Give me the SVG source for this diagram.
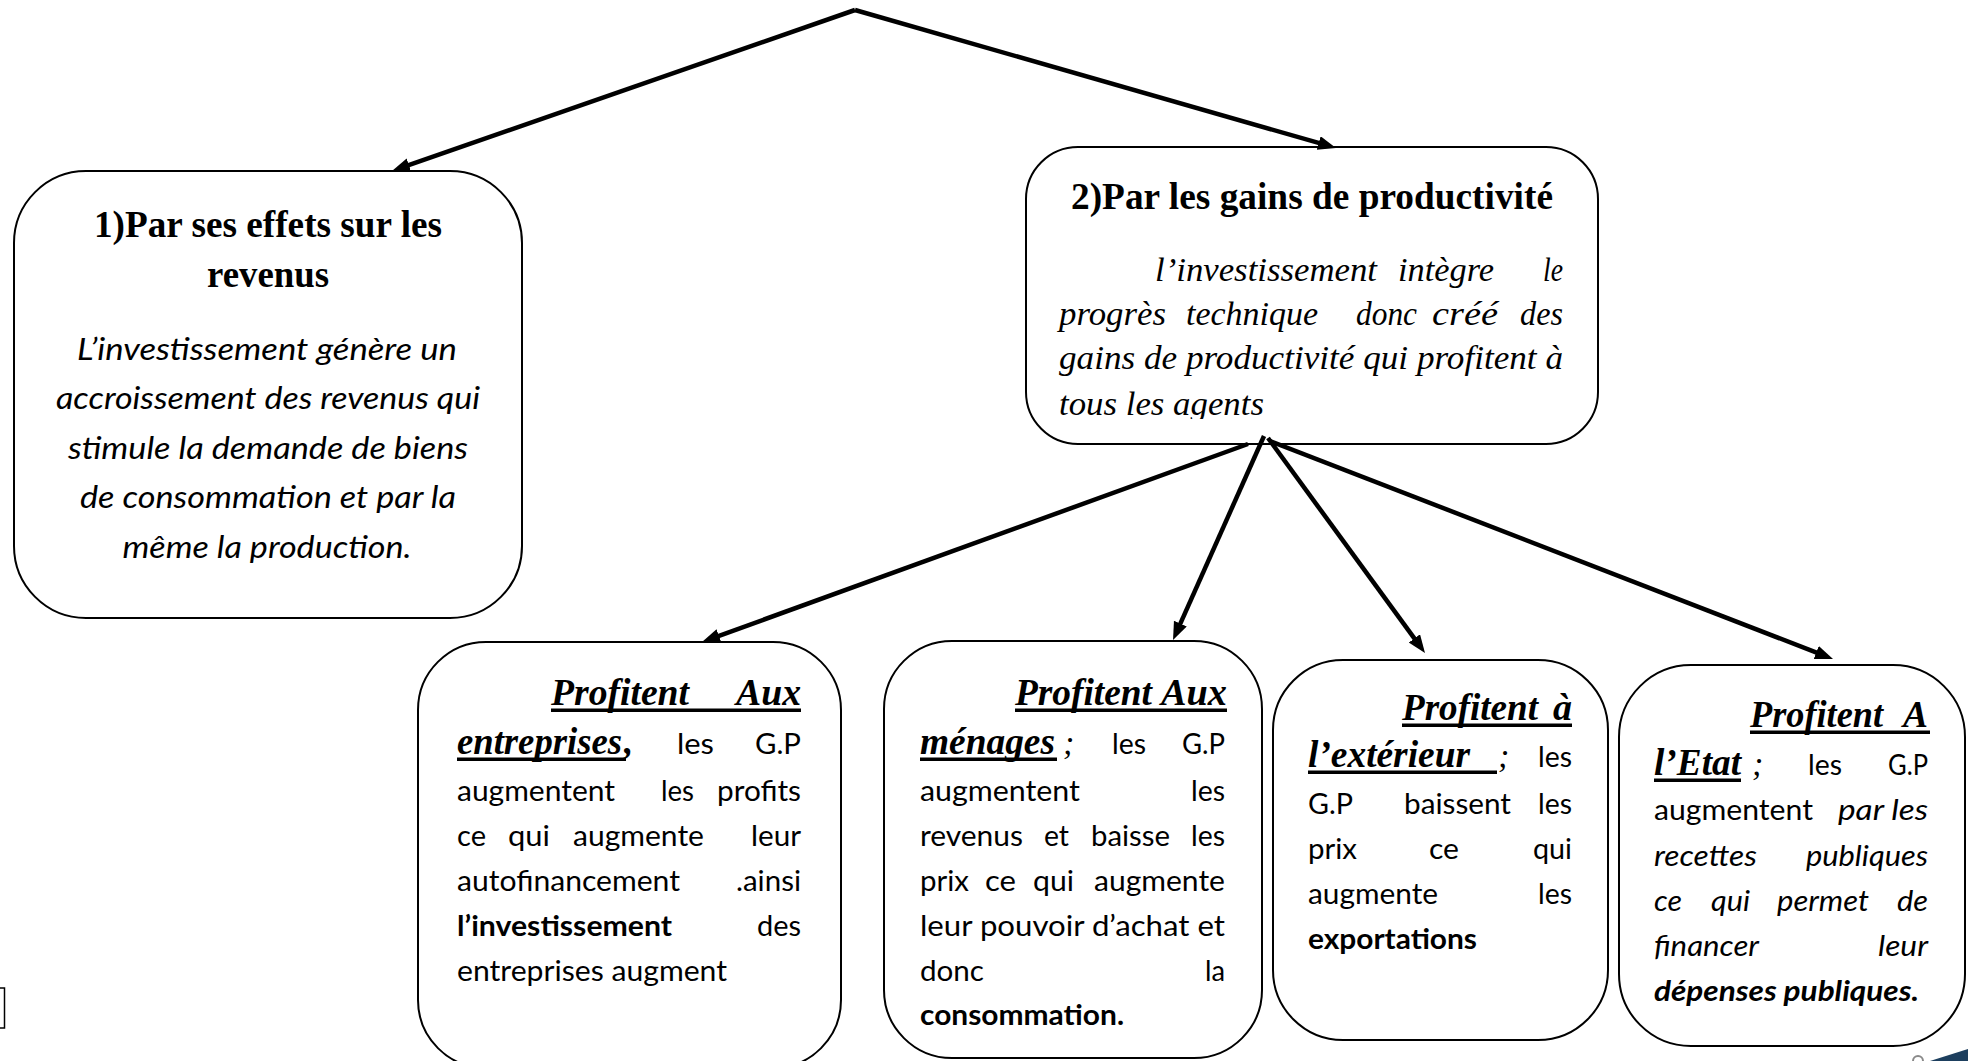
<svg xmlns="http://www.w3.org/2000/svg" width="1968" height="1061" viewBox="0 0 1968 1061">
<style>
.box{fill:none;stroke:#000;stroke-width:2}
.conn{fill:none;stroke:#000;stroke-width:4.5;marker-end:url(#ah)}
.tb{font-family:"Liberation Serif",serif;font-weight:bold;font-size:37px}
.hd{font-family:"Liberation Serif",serif;font-weight:bold;font-style:italic;font-size:37px}
.si{font-family:"Liberation Serif",serif;font-style:italic;font-size:34px}
.bs{font-family:Lato,"Liberation Sans",sans-serif;font-size:29px}
.bsb{font-family:Lato,"Liberation Sans",sans-serif;font-size:29px;font-weight:bold}
.bi{font-family:Lato,"Liberation Sans",sans-serif;font-size:29px;font-style:italic}
.bib{font-family:Lato,"Liberation Sans",sans-serif;font-size:29px;font-style:italic;font-weight:bold}
.b1{font-family:Lato,"Liberation Sans",sans-serif;font-size:31px;font-style:italic}
.ul{fill:#000}
text{fill:#000}
</style>
<defs>
<marker id="ah" markerUnits="userSpaceOnUse" markerWidth="20" markerHeight="16" refX="8" refY="7" orient="auto">
<path d="M0,0 L18,7 L0,14 Z" fill="#000"/>
</marker>
<clipPath id="c2"><rect x="1030" y="150" width="570" height="269"/></clipPath>
</defs>

<g id="connectors">
<path class="conn" d="M855,10 L401.4,167.7"/>
<path class="conn" d="M855,10 L1326.4,145.2"/>
<path class="conn" d="M1248,444 L711.4,638.6"/>
<path class="conn" d="M1264,436 L1177.1,630.9"/>
<path class="conn" d="M1268,438 L1419.1,644.9"/>
<path class="conn" d="M1270,441 L1823.7,655.4"/>
</g>

<g id="node-revenus">
<rect class="box" x="14" y="171" width="508" height="447" rx="72" ry="72"/>
<text class="tb" x="268" y="237" text-anchor="middle" textLength="348" lengthAdjust="spacingAndGlyphs">1)Par ses effets sur les</text>
<text class="tb" x="268" y="287" text-anchor="middle" textLength="122" lengthAdjust="spacingAndGlyphs">revenus</text>
<text class="b1" x="267" y="360" text-anchor="middle" textLength="380" lengthAdjust="spacingAndGlyphs">L’investissement génère un</text>
<text class="b1" x="268" y="409" text-anchor="middle" textLength="424" lengthAdjust="spacingAndGlyphs">accroissement des revenus qui</text>
<text class="b1" x="268" y="459" text-anchor="middle" textLength="400" lengthAdjust="spacingAndGlyphs">stimule la demande de biens</text>
<text class="b1" x="268" y="508" text-anchor="middle" textLength="376" lengthAdjust="spacingAndGlyphs">de consommation et par la</text>
<text class="b1" x="267" y="558" text-anchor="middle" textLength="289" lengthAdjust="spacingAndGlyphs">même la production.</text>
</g>

<g id="node-productivite">
<rect class="box" x="1026" y="147" width="572" height="297" rx="52" ry="52"/>
<text class="tb" x="1071" y="209" textLength="482" lengthAdjust="spacingAndGlyphs">2)Par les gains de productivité</text>
<text class="si" x="1155" y="281" textLength="222" lengthAdjust="spacingAndGlyphs">l’investissement</text>
<text class="si" x="1398" y="281" textLength="96" lengthAdjust="spacingAndGlyphs">intègre</text>
<text class="si" x="1543" y="281" textLength="20" lengthAdjust="spacingAndGlyphs">le</text>
<text class="si" x="1059" y="325" textLength="107" lengthAdjust="spacingAndGlyphs">progrès</text>
<text class="si" x="1186" y="325" textLength="132" lengthAdjust="spacingAndGlyphs">technique</text>
<text class="si" x="1356" y="325" textLength="61" lengthAdjust="spacingAndGlyphs">donc</text>
<text class="si" x="1432" y="325" textLength="66" lengthAdjust="spacingAndGlyphs">créé</text>
<text class="si" x="1520" y="325" textLength="43" lengthAdjust="spacingAndGlyphs">des</text>
<text class="si" x="1059" y="369" textLength="504" lengthAdjust="spacingAndGlyphs">gains de productivité qui profitent à</text>
<text class="si" x="1059" y="415" textLength="205" lengthAdjust="spacingAndGlyphs" clip-path="url(#c2)">tous les agents</text>
</g>

<g id="node-entreprises">
<rect class="box" x="418" y="642" width="423" height="426" rx="68" ry="68"/>
<text class="hd" x="551" y="705" textLength="138" lengthAdjust="spacingAndGlyphs">Profitent</text>
<text class="hd" x="736" y="705" textLength="65" lengthAdjust="spacingAndGlyphs">Aux</text>
<rect class="ul" x="551" y="708.5" width="250" height="3.5"/>
<text class="hd" x="457" y="754" textLength="165" lengthAdjust="spacingAndGlyphs">entreprises</text>
<rect class="ul" x="457" y="757.5" width="169" height="3.5"/>
<text class="hd" x="624" y="754">,</text>
<text class="bs" x="677" y="754" textLength="37" lengthAdjust="spacingAndGlyphs">les</text>
<text class="bs" x="755" y="754" textLength="46" lengthAdjust="spacingAndGlyphs">G.P</text>
<text class="bs" x="457" y="801" textLength="158" lengthAdjust="spacingAndGlyphs">augmentent</text>
<text class="bs" x="661" y="801" textLength="33" lengthAdjust="spacingAndGlyphs">les</text>
<text class="bs" x="717" y="801" textLength="84" lengthAdjust="spacingAndGlyphs">profits</text>
<text class="bs" x="457" y="846" textLength="29" lengthAdjust="spacingAndGlyphs">ce</text>
<text class="bs" x="508" y="846" textLength="42" lengthAdjust="spacingAndGlyphs">qui</text>
<text class="bs" x="573" y="846" textLength="131" lengthAdjust="spacingAndGlyphs">augmente</text>
<text class="bs" x="751" y="846" textLength="50" lengthAdjust="spacingAndGlyphs">leur</text>
<text class="bs" x="457" y="891" textLength="223" lengthAdjust="spacingAndGlyphs">autofinancement</text>
<text class="bs" x="736" y="891" textLength="65" lengthAdjust="spacingAndGlyphs">.ainsi</text>
<text class="bsb" x="457" y="936" textLength="215" lengthAdjust="spacingAndGlyphs">l’investissement</text>
<text class="bs" x="757" y="936" textLength="44" lengthAdjust="spacingAndGlyphs">des</text>
<text class="bs" x="457" y="981" textLength="270" lengthAdjust="spacingAndGlyphs">entreprises augment</text>
</g>

<g id="node-menages">
<rect class="box" x="884" y="641" width="378" height="417" rx="68" ry="68"/>
<text class="hd" x="1015" y="705" textLength="137" lengthAdjust="spacingAndGlyphs">Profitent</text>
<text class="hd" x="1161" y="705" textLength="66" lengthAdjust="spacingAndGlyphs">Aux</text>
<rect class="ul" x="1015" y="708.5" width="212" height="3.5"/>
<text class="hd" x="920" y="754" textLength="135" lengthAdjust="spacingAndGlyphs">ménages</text>
<rect class="ul" x="920" y="757.5" width="137" height="3.5"/>
<text class="si" x="1063" y="754">;</text>
<text class="bs" x="1112" y="754" textLength="34" lengthAdjust="spacingAndGlyphs">les</text>
<text class="bs" x="1182" y="754" textLength="43" lengthAdjust="spacingAndGlyphs">G.P</text>
<text class="bs" x="920" y="801" textLength="160" lengthAdjust="spacingAndGlyphs">augmentent</text>
<text class="bs" x="1191" y="801" textLength="34" lengthAdjust="spacingAndGlyphs">les</text>
<text class="bs" x="920" y="846" textLength="103" lengthAdjust="spacingAndGlyphs">revenus</text>
<text class="bs" x="1044" y="846" textLength="25" lengthAdjust="spacingAndGlyphs">et</text>
<text class="bs" x="1091" y="846" textLength="79" lengthAdjust="spacingAndGlyphs">baisse</text>
<text class="bs" x="1191" y="846" textLength="34" lengthAdjust="spacingAndGlyphs">les</text>
<text class="bs" x="920" y="891" textLength="49" lengthAdjust="spacingAndGlyphs">prix</text>
<text class="bs" x="985" y="891" textLength="31" lengthAdjust="spacingAndGlyphs">ce</text>
<text class="bs" x="1033" y="891" textLength="41" lengthAdjust="spacingAndGlyphs">qui</text>
<text class="bs" x="1094" y="891" textLength="131" lengthAdjust="spacingAndGlyphs">augmente</text>
<text class="bs" x="920" y="936" textLength="305" lengthAdjust="spacingAndGlyphs">leur pouvoir d’achat et</text>
<text class="bs" x="920" y="981" textLength="64" lengthAdjust="spacingAndGlyphs">donc</text>
<text class="bs" x="1205" y="981" textLength="20" lengthAdjust="spacingAndGlyphs">la</text>
<text class="bsb" x="920" y="1025" textLength="204" lengthAdjust="spacingAndGlyphs">consommation.</text>
</g>

<g id="node-exterieur">
<rect class="box" x="1273" y="660" width="335" height="380" rx="70" ry="70"/>
<text class="hd" x="1402" y="720" textLength="136" lengthAdjust="spacingAndGlyphs">Profitent</text>
<text class="hd" x="1553" y="720" textLength="19" lengthAdjust="spacingAndGlyphs">à</text>
<rect class="ul" x="1402" y="723.5" width="170" height="3.5"/>
<text class="hd" x="1308" y="767" textLength="162" lengthAdjust="spacingAndGlyphs">l’extérieur</text>
<rect class="ul" x="1308" y="770.5" width="189" height="3.5"/>
<text class="si" x="1498" y="767">;</text>
<text class="bs" x="1538" y="767" textLength="34" lengthAdjust="spacingAndGlyphs">les</text>
<text class="bs" x="1308" y="814" textLength="45" lengthAdjust="spacingAndGlyphs">G.P</text>
<text class="bs" x="1404" y="814" textLength="107" lengthAdjust="spacingAndGlyphs">baissent</text>
<text class="bs" x="1538" y="814" textLength="34" lengthAdjust="spacingAndGlyphs">les</text>
<text class="bs" x="1308" y="859" textLength="49" lengthAdjust="spacingAndGlyphs">prix</text>
<text class="bs" x="1429" y="859" textLength="30" lengthAdjust="spacingAndGlyphs">ce</text>
<text class="bs" x="1533" y="859" textLength="39" lengthAdjust="spacingAndGlyphs">qui</text>
<text class="bs" x="1308" y="904" textLength="130" lengthAdjust="spacingAndGlyphs">augmente</text>
<text class="bs" x="1538" y="904" textLength="34" lengthAdjust="spacingAndGlyphs">les</text>
<text class="bsb" x="1308" y="949" textLength="169" lengthAdjust="spacingAndGlyphs">exportations</text>
</g>

<g id="node-etat">
<rect class="box" x="1619" y="665" width="346" height="381" rx="72" ry="72"/>
<text class="hd" x="1750" y="727" textLength="133" lengthAdjust="spacingAndGlyphs">Profitent</text>
<text class="hd" x="1903" y="727" textLength="25" lengthAdjust="spacingAndGlyphs">A</text>
<rect class="ul" x="1750" y="730.5" width="180" height="3.5"/>
<text class="hd" x="1654" y="775" textLength="87" lengthAdjust="spacingAndGlyphs">l’Etat</text>
<rect class="ul" x="1654" y="778.5" width="87" height="3.5"/>
<text class="si" x="1752" y="775">;</text>
<text class="bs" x="1808" y="775" textLength="34" lengthAdjust="spacingAndGlyphs">les</text>
<text class="bs" x="1888" y="775" textLength="40" lengthAdjust="spacingAndGlyphs">G.P</text>
<text class="bs" x="1654" y="820" textLength="159" lengthAdjust="spacingAndGlyphs">augmentent</text>
<text class="bi" x="1838" y="820" textLength="90" lengthAdjust="spacingAndGlyphs">par les</text>
<text class="bi" x="1654" y="866" textLength="103" lengthAdjust="spacingAndGlyphs">recettes</text>
<text class="bi" x="1806" y="866" textLength="122" lengthAdjust="spacingAndGlyphs">publiques</text>
<text class="bi" x="1654" y="911" textLength="28" lengthAdjust="spacingAndGlyphs">ce</text>
<text class="bi" x="1711" y="911" textLength="39" lengthAdjust="spacingAndGlyphs">qui</text>
<text class="bi" x="1777" y="911" textLength="92" lengthAdjust="spacingAndGlyphs">permet</text>
<text class="bi" x="1897" y="911" textLength="31" lengthAdjust="spacingAndGlyphs">de</text>
<text class="bi" x="1654" y="956" textLength="105" lengthAdjust="spacingAndGlyphs">financer</text>
<text class="bi" x="1878" y="956" textLength="50" lengthAdjust="spacingAndGlyphs">leur</text>
<text class="bib" x="1654" y="1001" textLength="265" lengthAdjust="spacingAndGlyphs">dépenses publiques.</text>
</g>

<rect x="-3" y="988" width="7.5" height="40" fill="none" stroke="#000" stroke-width="1.5"/>
<polygon points="1930,1061 1968,1049 1968,1061" fill="#1d3f5e"/>
<circle cx="1918" cy="1061" r="5" fill="none" stroke="#8a8a8a" stroke-width="2"/>
</svg>
